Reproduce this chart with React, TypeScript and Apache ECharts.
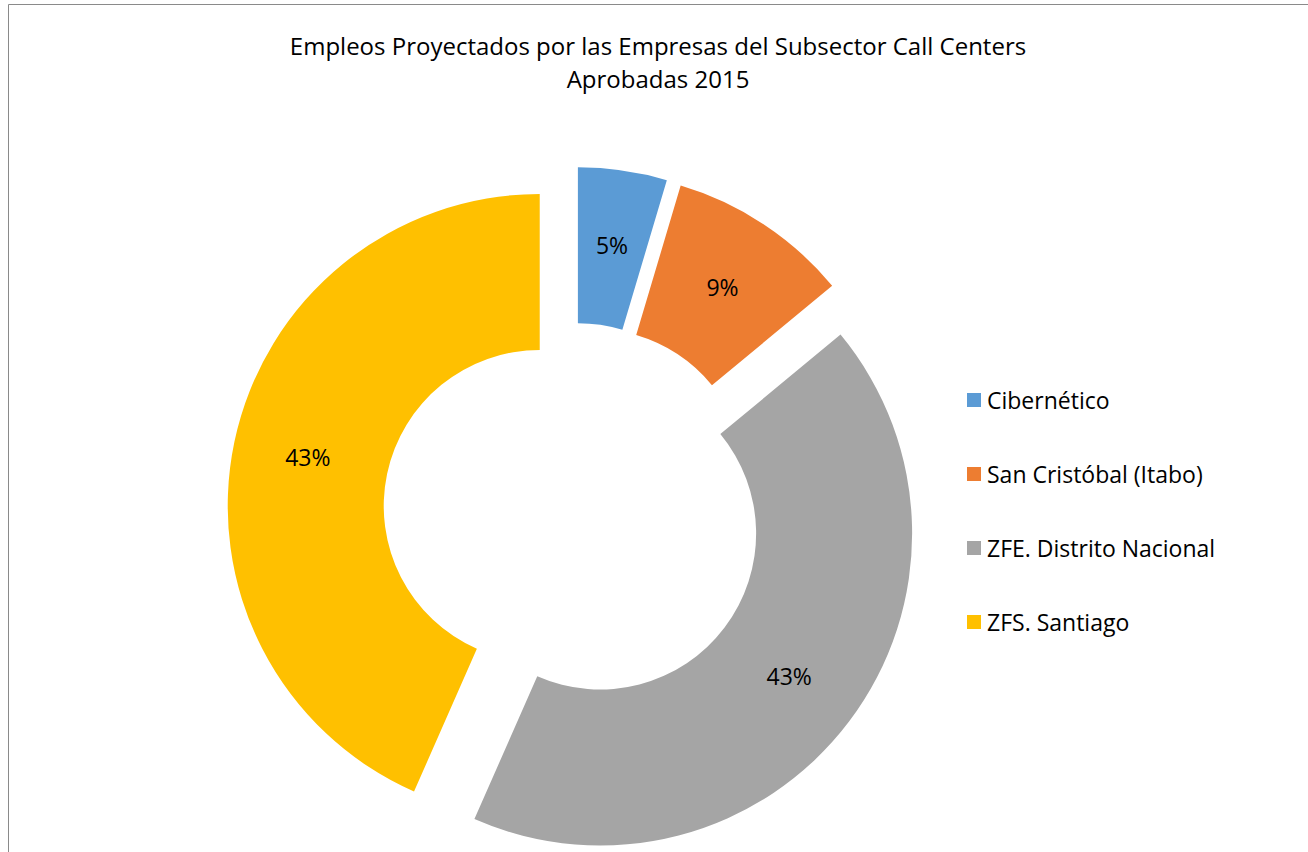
import React, { useEffect, useRef } from "react";
import * as echarts from "echarts";

const titleLines = [
  "Empleos Proyectados por las Empresas del Subsector Call Centers",
  "Aprobadas 2015",
];
const categories = [
  "Cibernético",
  "San Cristóbal (Itabo)",
  "ZFE. Distrito Nacional",
  "ZFS. Santiago",
];
const values = [4.6, 9.4, 42.6, 43.4];
const colors = ["#5B9BD5", "#ED7D31", "#A5A5A5", "#FFC000"];

const FONT = "'Open Sans', 'Noto Sans', sans-serif";

export default function App() {
  const ref = useRef<HTMLDivElement>(null);
  useEffect(() => {
    if (!ref.current) return;
    const chart = echarts.init(ref.current, null, { renderer: "svg" });
    chart.setOption({
      animation: false,
      backgroundColor: "#ffffff",
      graphic: [
        {
          type: "rect",
          shape: { x: 8.5, y: 4.5, width: 1400, height: 1000 },
          style: { fill: "none", stroke: "#8a8a8a", lineWidth: 1 },
          silent: true,
        },
        {
          type: "text",
          x: 658,
          y: 45,
          style: {
            text: titleLines[0],
            fill: "#000",
            font: `24px ${FONT}`,
            textAlign: "center",
            textVerticalAlign: "middle",
          },
        },
        {
          type: "text",
          x: 658,
          y: 78,
          style: {
            text: titleLines[1],
            fill: "#000",
            font: `24px ${FONT}`,
            textAlign: "center",
            textVerticalAlign: "middle",
          },
        },
      ],
      legend: {
        orient: "vertical",
        left: 967,
        top: 388,
        padding: 0,
        icon: "rect",
        itemWidth: 14,
        itemHeight: 14,
        itemGap: 50,
        selectedMode: false,
        textStyle: {
          fontFamily: FONT,
          fontSize: 23,
          lineHeight: 24,
          color: "#000",
          padding: [0, 0, 0, 1],
        },
        data: categories,
      },
      series: [
        {
          type: "pie",
          center: [573, 513],
          radius: [156, 312],
          startAngle: 90,
          clockwise: true,
          selectedMode: "multiple",
          selectedOffset: 34,
          avoidLabelOverlap: false,
          itemStyle: { borderWidth: 0 },
          label: {
            show: true,
            position: "inside",
            color: "#000",
            fontFamily: FONT,
            fontSize: 23,
            formatter: (p: any) => Math.round(p.percent) + "%",
          },
          labelLine: { show: false },
          emphasis: { disabled: true },
          select: {
            itemStyle: { borderWidth: 0 },
            label: { color: "#000" },
          },
          data: categories.map((name, i) => ({
            name,
            value: values[i],
            selected: true,
            itemStyle: { color: colors[i] },
          })),
        },
      ],
    });
    return () => chart.dispose();
  }, []);
  return (
    <div
      ref={ref}
      style={{ position: "fixed", left: 0, top: 0, width: 1308, height: 852 }}
    />
  );
}
